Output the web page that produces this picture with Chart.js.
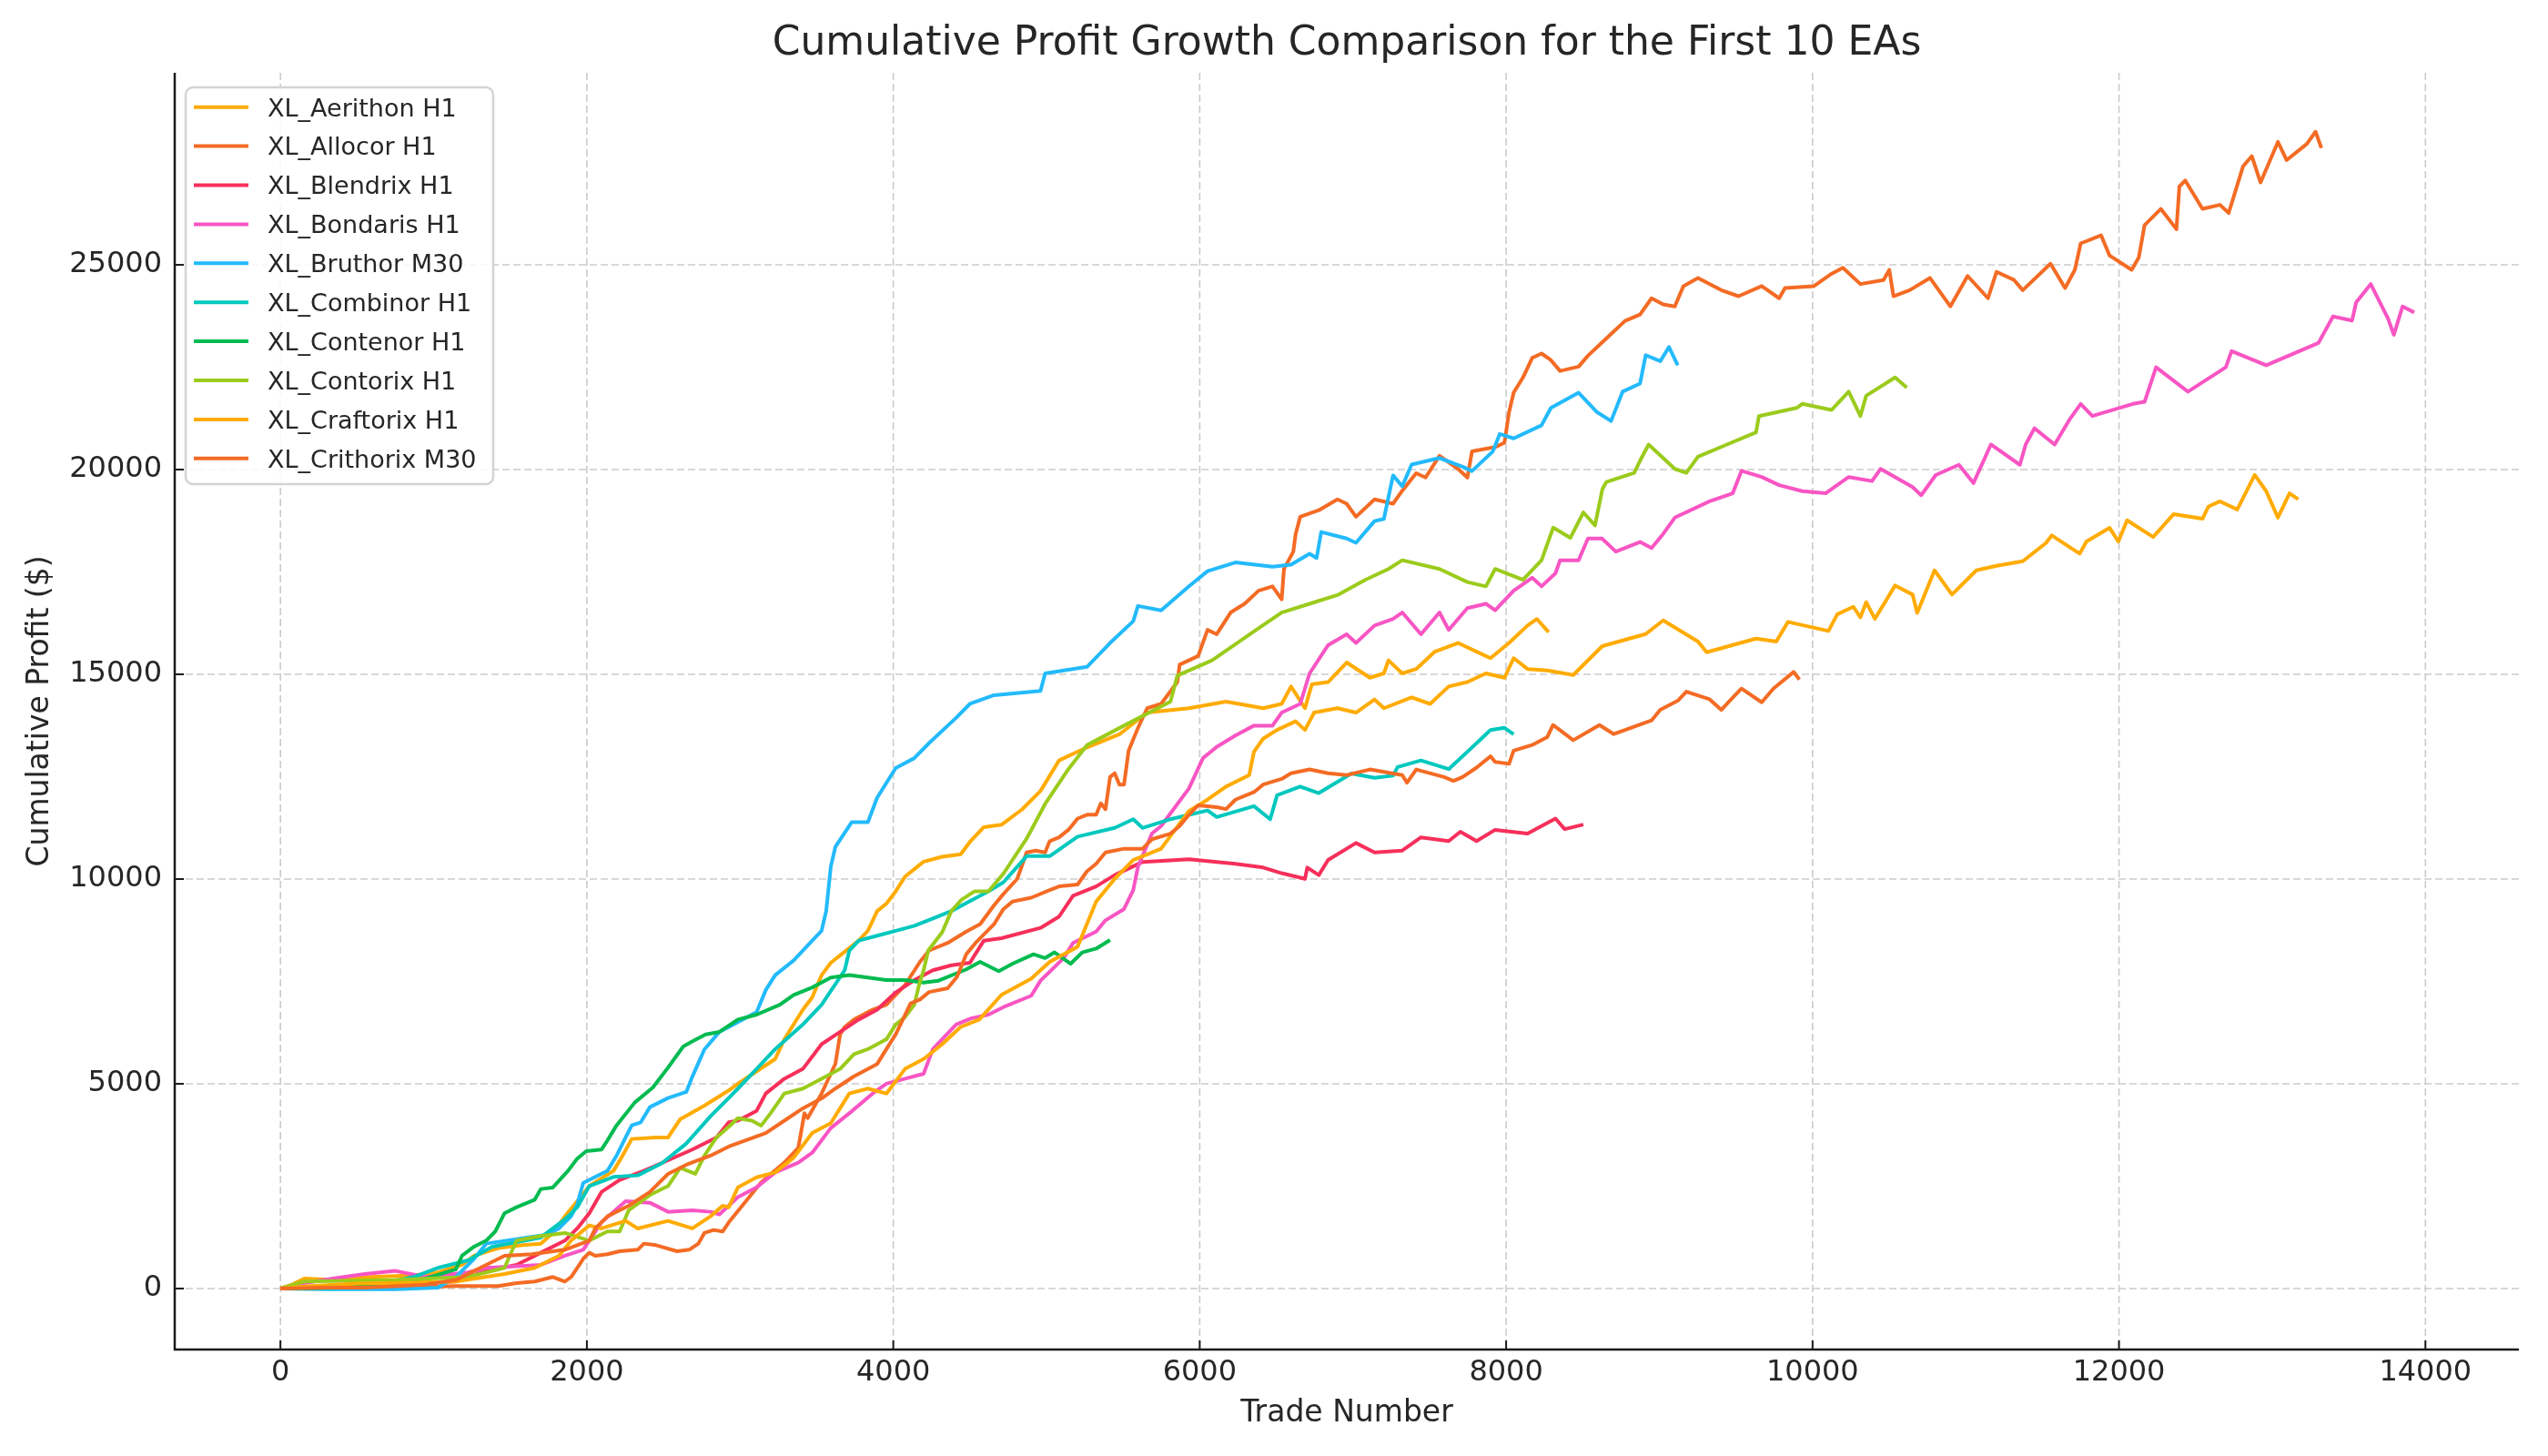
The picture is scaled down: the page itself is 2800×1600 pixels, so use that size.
<!DOCTYPE html>
<html>
<head>
<meta charset="utf-8">
<script src="https://cdn.jsdelivr.net/npm/chart.js@4.4.1/dist/chart.umd.min.js"></script>
<style>
html,body{margin:0;padding:0;background:#fff;}
#wrap{width:2800px;height:1600px;}
</style>
</head>
<body>
<div id="wrap"><canvas id="c" width="2800" height="1600"></canvas></div>
<script>
// ---------- data ----------
const chartTitle = 'Cumulative Profit Growth Comparison for the First 10 EAs';
const xAxisTitle = 'Trade Number';
const yAxisTitle = 'Cumulative Profit ($)';
const xTickValues = [0, 2000, 4000, 6000, 8000, 10000, 12000, 14000];
const yTickValues = [0, 5000, 10000, 15000, 20000, 25000];

const seriesNames = ['XL_Aerithon H1','XL_Allocor H1','XL_Blendrix H1','XL_Bondaris H1','XL_Bruthor M30','XL_Combinor H1','XL_Contenor H1','XL_Contorix H1','XL_Craftorix H1','XL_Crithorix M30'];
const seriesColors = ['#FFAB00','#F46B24','#F72F5A','#F855C3','#23BAFC','#00C8BE','#00BB50','#9BCB1C','#FFAB00','#F46B24'];

const aerithonTrades = [0,77,156,354,591,868,1027,1185,1264,1422,1580,1699,1778,1857,1937,2016,2174,2233,2293,2451,2530,2609,2767,2926,2986,3108,3229,3289,3410,3471,3532,3592,3653,3774,3834,3895,3955,4016,4077,4198,4319,4440,4500,4591,4706,4840,4961,5082,5264,5476,5657,5930,6172,6414,6535,6596,6687,6732,6838,6959,7111,7202,7232,7322,7413,7535,7686,7807,7898,8019,8140,8201,8277];
const aerithonProfit = [0,97,245,208,282,319,393,578,800,985,1059,1096,1356,1763,2133,2504,2874,3244,3652,3689,3689,4133,4467,4837,5003,5304,5605,6087,6810,7111,7653,7954,8135,8496,8737,9219,9400,9701,10062,10424,10544,10604,10906,11267,11327,11700,12153,12897,13216,13534,14066,14172,14332,14172,14278,14703,14172,14757,14810,15288,14916,15022,15341,15022,15129,15554,15766,15554,15394,15766,16191,16351,16032];

const allocorTrades = [0,300,600,900,1145,1422,1541,1660,1778,1857,1897,1937,1976,2016,2055,2134,2214,2332,2372,2451,2589,2668,2728,2767,2827,2886,2926,3138,3289,3380,3420,3441,3532,3592,3622,3653,3683,3744,3865,3955,4077,4174,4234,4355,4476,4567,4658,4719,4809,4870,4930,4991,5021,5082,5143,5203,5264,5324,5354,5385,5415,5445,5476,5506,5536,5566,5597,5657,5748,5854,5869,5990,6051,6111,6202,6293,6384,6475,6535,6550,6611,6626,6656,6777,6899,6959,7020,7141,7262,7322,7413,7474,7565,7686,7747,7777,7928,7989,8019,8049,8110,8170,8231,8292,8352,8473,8534,8655,8776,8874,8949,9025,9101,9157,9252,9404,9517,9668,9782,9820,10009,10123,10198,10312,10463,10501,10528,10634,10766,10899,11012,11145,11201,11315,11372,11553,11648,11712,11750,11883,11939,12083,12129,12167,12273,12375,12394,12432,12545,12659,12716,12810,12867,12924,13037,13094,13226,13283,13321];
const allocorProfit = [0,30,50,40,59,59,133,171,282,171,282,504,726,874,800,837,911,948,1096,1059,911,948,1096,1356,1430,1393,1615,2593,3076,3437,4280,4160,4762,5244,5485,6207,6388,6569,6810,6930,7412,7978,8255,8439,8715,8900,9360,9636,10005,10649,10695,10649,10926,11018,11202,11478,11570,11570,11847,11708,12492,12584,12307,12307,13136,13413,13689,14172,14278,14810,15235,15447,16085,15979,16510,16723,17042,17148,16829,17573,17998,18423,18848,19008,19274,19167,18848,19274,19167,19486,19911,19805,20336,20017,19805,20443,20549,20655,21399,21877,22249,22727,22834,22674,22409,22515,22781,23206,23631,23787,24184,24035,23985,24481,24680,24382,24234,24481,24184,24432,24481,24779,24928,24531,24630,24878,24234,24382,24680,23985,24729,24184,24829,24630,24382,25027,24432,24878,25523,25721,25225,24878,25176,25969,26366,25870,26912,27061,26366,26465,26267,27408,27656,27011,28003,27557,27953,28251,27854];

const blendrixTrades = [0,300,600,900,1145,1343,1541,1699,1857,1937,2016,2095,2214,2372,2530,2688,2846,2926,2986,3108,3168,3289,3410,3532,3653,3774,3895,4016,4137,4258,4379,4500,4591,4706,4961,5082,5173,5324,5445,5627,5930,6233,6414,6535,6687,6702,6777,6838,7020,7141,7322,7444,7625,7701,7807,7928,8140,8322,8382,8504];
const blendrixProfit = [0,10,60,120,171,430,578,874,1170,1467,1837,2356,2652,2874,3133,3393,3689,4059,4099,4340,4762,5123,5364,5966,6268,6569,6810,7231,7533,7773,7894,7954,8496,8556,8807,9083,9590,9820,10097,10419,10484,10373,10281,10143,10005,10281,10097,10465,10880,10649,10695,11018,10926,11156,10926,11202,11110,11478,11220,11331];

const bondarisTrades = [0,156,352,552,750,948,1224,1343,1541,1699,1857,1976,2095,2253,2411,2530,2688,2807,2865,2986,3108,3229,3380,3471,3592,3713,3865,3955,4077,4198,4258,4410,4507,4621,4719,4900,4961,5112,5173,5324,5385,5506,5566,5597,5688,5748,5839,5930,6021,6111,6233,6354,6475,6535,6656,6717,6838,6959,7020,7141,7262,7322,7444,7565,7625,7747,7868,7928,8049,8170,8231,8322,8352,8473,8534,8625,8716,8874,8949,9025,9101,9328,9479,9536,9668,9782,9933,10085,10236,10388,10444,10653,10709,10804,10955,11050,11164,11353,11391,11448,11580,11675,11750,11826,12091,12167,12242,12450,12697,12735,12961,13302,13397,13521,13548,13643,13756,13794,13851,13927];
const bondarisProfit = [0,133,250,356,430,282,393,504,541,578,800,948,1615,2133,2096,1874,1911,1874,1810,2232,2473,2835,3076,3317,3918,4280,4762,5003,5123,5244,5846,6448,6597,6689,6873,7149,7518,8070,8439,8715,8992,9268,9728,10300,11110,11294,11755,12215,12952,13228,13505,13747,13747,14066,14278,15022,15713,15979,15766,16191,16351,16510,15979,16510,16085,16617,16723,16563,17042,17360,17148,17467,17786,17786,18317,18317,17998,18232,18083,18430,18827,19224,19422,19968,19819,19621,19472,19422,19819,19720,20017,19571,19373,19868,20117,19670,20612,20117,20612,21010,20612,21208,21605,21307,21605,21654,22498,21902,22498,22894,22547,23092,23738,23638,24085,24531,23688,23291,23985,23837];

const bruthorTrades = [0,300,750,1027,1145,1264,1343,1541,1739,1818,1897,1937,1976,2055,2134,2194,2253,2293,2352,2411,2530,2649,2688,2767,2865,2986,3108,3168,3229,3350,3471,3532,3562,3592,3622,3728,3834,3895,4016,4137,4234,4416,4500,4658,4961,4991,5264,5415,5566,5597,5748,5930,6051,6233,6475,6596,6717,6763,6793,6959,7020,7141,7202,7262,7322,7383,7565,7716,7777,7913,7958,8049,8231,8292,8473,8594,8685,8760,8874,8911,9006,9063,9120];
const bruthorProfit = [0,-20,-15,22,282,726,1096,1207,1319,1467,1763,2059,2578,2726,2874,3244,3689,3985,4059,4430,4652,4800,5170,5837,6268,6508,6749,7291,7653,8014,8496,8737,9219,10303,10785,11387,11387,11990,12712,12953,13322,13959,14278,14491,14597,15022,15182,15766,16298,16670,16563,17148,17520,17732,17626,17679,17945,17839,18476,18317,18211,18742,18795,19858,19592,20124,20283,20071,19964,20442,20868,20761,21080,21505,21877,21399,21187,21902,22101,22795,22646,22994,22547];

const combinorTrades = [0,300,552,868,1027,1224,1383,1541,1699,1857,1937,2016,2174,2332,2490,2649,2807,2926,2986,3108,3229,3410,3532,3683,3713,3774,3895,4016,4137,4258,4379,4500,4621,4719,4870,5021,5203,5445,5566,5627,5809,6051,6111,6354,6460,6505,6656,6777,6990,7141,7262,7292,7444,7625,7747,7868,7898,7989,8049];
const combinorProfit = [0,10,22,282,504,689,1022,1133,1245,1689,1985,2504,2726,2763,3059,3541,4207,4652,4883,5364,5846,6448,6930,7773,8255,8496,8617,8737,8858,9038,9219,9460,9701,9921,10559,10559,11037,11249,11462,11249,11462,11674,11515,11781,11462,12046,12259,12099,12578,12472,12525,12737,12897,12684,13109,13534,13641,13694,13534];

const contenorTrades = [0,354,750,948,1145,1185,1264,1343,1402,1462,1541,1660,1699,1778,1877,1937,1996,2095,2134,2194,2312,2431,2530,2629,2684,2775,2865,2986,3108,3259,3350,3471,3592,3713,3834,3955,4077,4198,4295,4476,4567,4688,4779,4915,4991,5052,5158,5233,5324,5415];
const contenorProfit = [0,22,134,245,467,800,1022,1170,1393,1837,1985,2170,2430,2467,2874,3170,3356,3393,3615,3985,4541,4911,5396,5911,6027,6207,6268,6569,6689,6930,7171,7352,7593,7653,7593,7533,7533,7472,7518,7794,7978,7748,7932,8162,8070,8209,7932,8209,8301,8512];

const contorixTrades = [0,156,400,750,1224,1462,1541,1699,1857,2016,2134,2214,2273,2411,2530,2609,2708,2767,2846,2926,2986,3077,3138,3199,3289,3410,3532,3653,3744,3834,3955,4016,4077,4137,4168,4198,4228,4319,4379,4446,4531,4621,4719,4870,4991,5143,5264,5506,5809,5854,6081,6369,6535,6717,6899,7080,7232,7322,7565,7747,7868,7928,8110,8231,8307,8419,8504,8580,8628,8655,8836,8874,8930,9101,9176,9252,9441,9631,9650,9896,9933,10123,10236,10312,10350,10539,10615];
const contorixProfit = [0,171,190,208,282,504,1170,1282,1356,1170,1393,1393,1911,2282,2504,2948,2800,3244,3689,3948,4159,4099,3979,4280,4762,4883,5123,5364,5726,5846,6087,6448,6629,6930,7412,7773,8255,8700,9219,9496,9701,9701,10133,10984,11834,12684,13269,13747,14332,14969,15341,16085,16510,16723,16936,17307,17573,17786,17573,17254,17148,17573,17307,17786,18582,18332,18955,18636,19522,19699,19918,20216,20612,20017,19918,20315,20612,20910,21307,21505,21605,21456,21902,21307,21803,22250,22001];

const craftorixTrades = [0,200,500,800,1145,1462,1660,1818,1897,2016,2095,2253,2332,2530,2688,2807,2886,2926,2986,3108,3229,3350,3471,3592,3713,3834,3955,4077,4198,4319,4440,4561,4706,4900,5021,5203,5324,5445,5566,5748,5930,6051,6172,6323,6354,6414,6505,6626,6687,6747,6899,7020,7141,7202,7383,7504,7625,7747,7868,7989,8049,8140,8268,8438,8628,8911,9025,9252,9309,9631,9763,9839,10104,10161,10266,10312,10350,10407,10539,10653,10683,10796,10910,11069,11201,11372,11523,11561,11743,11788,11939,11996,12053,12223,12356,12545,12583,12659,12772,12886,12961,13037,13113,13170];
const craftorixProfit = [0,60,120,140,171,356,504,800,1170,1541,1467,1652,1467,1652,1467,1763,2022,1985,2473,2715,2835,3196,3798,4039,4762,4883,4762,5364,5605,5967,6388,6569,7171,7564,7978,8347,9452,10005,10465,10741,11663,11940,12259,12538,13109,13428,13641,13853,13641,14066,14172,14066,14385,14172,14438,14278,14703,14810,15022,14916,15394,15129,15095,14984,15688,15984,16317,15799,15540,15873,15799,16280,16058,16465,16650,16391,16762,16354,17169,16947,16502,17539,16947,17539,17650,17762,18206,18391,17947,18243,18576,18243,18762,18354,18910,18799,19095,19224,19026,19869,19472,18827,19422,19273];

const crithorixTrades = [0,300,552,948,1145,1343,1462,1640,1857,2016,2055,2134,2273,2411,2530,2649,2807,2926,3168,3289,3410,3532,3622,3744,3895,3955,4016,4113,4174,4234,4355,4416,4476,4537,4597,4658,4719,4779,4900,5021,5082,5203,5264,5324,5385,5506,5627,5688,5809,5869,5930,5990,6111,6172,6233,6354,6414,6535,6596,6717,6838,6959,7111,7322,7353,7413,7595,7656,7716,7807,7898,7928,8019,8049,8170,8268,8306,8438,8609,8703,8949,9006,9120,9176,9328,9404,9479,9536,9668,9744,9877,9914];
const crithorixProfit = [0,20,22,96,208,578,800,837,948,1170,1467,1763,2022,2356,2800,3022,3244,3467,3798,4099,4401,4642,4883,5183,5485,5846,6207,6965,7057,7241,7334,7610,8163,8439,8669,8899,9268,9452,9544,9728,9820,9866,10189,10373,10649,10741,10741,10972,11110,11294,11570,11801,11755,11709,11939,12123,12307,12446,12584,12676,12584,12538,12676,12538,12353,12676,12492,12399,12492,12722,12998,12860,12814,13136,13274,13466,13762,13392,13762,13540,13873,14132,14354,14576,14391,14132,14428,14651,14317,14651,15058,14873];

const seriesTrades = [aerithonTrades, allocorTrades, blendrixTrades, bondarisTrades, bruthorTrades, combinorTrades, contenorTrades, contorixTrades, craftorixTrades, crithorixTrades];
const seriesProfit = [aerithonProfit, allocorProfit, blendrixProfit, bondarisProfit, bruthorProfit, combinorProfit, contenorProfit, contorixProfit, craftorixProfit, crithorixProfit];

// ---------- chart ----------
const FONT = '"DejaVu Sans", "Liberation Sans", sans-serif';
const TEXT = '#262626';
Chart.defaults.font.family = FONT;
Chart.defaults.color = TEXT;

const datasets = seriesNames.map((name, i) => ({
  label: name,
  data: seriesTrades[i].map((t, k) => ({x: t, y: seriesProfit[i][k]})),
  borderColor: seriesColors[i],
  backgroundColor: seriesColors[i],
  borderWidth: 4,
  pointRadius: 0,
  pointHoverRadius: 0,
  tension: 0,
  fill: false,
  borderJoinStyle: 'round',
  order: seriesNames.length - 1 - i
}));

const decor = {
  id: 'decor',
  beforeDatasetsDraw(chart) {
    const {ctx, chartArea: a, scales: {x, y}} = chart;
    ctx.save();
    ctx.strokeStyle = '#cbcbcb';
    ctx.lineWidth = 1.6;
    ctx.setLineDash([8, 4]);
    xTickValues.forEach(v => {
      const px = x.getPixelForValue(v);
      ctx.beginPath(); ctx.moveTo(px, a.top); ctx.lineTo(px, a.bottom); ctx.stroke();
    });
    yTickValues.forEach(v => {
      const py = y.getPixelForValue(v);
      ctx.beginPath(); ctx.moveTo(a.left, py); ctx.lineTo(a.right, py); ctx.stroke();
    });
    ctx.restore();
  },
  afterDatasetsDraw(chart) {
    const {ctx, chartArea: a, scales: {x, y}} = chart;
    ctx.save();
    ctx.setLineDash([]);
    ctx.strokeStyle = '#1a1a1a';
    ctx.lineWidth = 2.5;
    ctx.beginPath(); ctx.moveTo(a.left, a.top); ctx.lineTo(a.left, a.bottom); ctx.lineTo(a.right, a.bottom); ctx.stroke();
    ctx.lineWidth = 2;
    xTickValues.forEach(v => {
      const px = x.getPixelForValue(v);
      ctx.beginPath(); ctx.moveTo(px, a.bottom); ctx.lineTo(px, a.bottom - 10); ctx.stroke();
    });
    yTickValues.forEach(v => {
      const py = y.getPixelForValue(v);
      ctx.beginPath(); ctx.moveTo(a.left, py); ctx.lineTo(a.left + 10, py); ctx.stroke();
    });
    // legend
    const ds = chart.data.datasets;
    const bx = a.left + 12, by = a.top + 16, bw = 338, bh = 436;
    ctx.beginPath();
    if (ctx.roundRect) ctx.roundRect(bx, by, bw, bh, 8); else ctx.rect(bx, by, bw, bh);
    ctx.fillStyle = 'rgba(255,255,255,0.85)';
    ctx.fill();
    ctx.strokeStyle = '#d4d4d4';
    ctx.lineWidth = 2.5;
    ctx.stroke();
    ctx.font = '27px ' + FONT;
    ctx.textBaseline = 'alphabetic';
    ds.forEach((d, i) => {
      const cy = by + 21.7 + i * 42.9;
      ctx.strokeStyle = d.borderColor;
      ctx.lineWidth = 4;
      ctx.beginPath(); ctx.moveTo(bx + 9, cy); ctx.lineTo(bx + 69, cy); ctx.stroke();
      ctx.fillStyle = TEXT;
      ctx.fillText(d.label, bx + 90, cy + 9.8);
    });
    ctx.restore();
  }
};

new Chart(document.getElementById('c'), {
  type: 'line',
  data: {datasets},
  options: {
    responsive: false,
    animation: false,
    devicePixelRatio: 1,
    layout: {padding: {left: 0, right: 32, top: 0, bottom: 0}},
    plugins: {
      legend: {display: false},
      tooltip: {enabled: false},
      title: {
        display: true,
        text: chartTitle,
        fullSize: false,
        color: TEXT,
        font: {size: 44, weight: 'normal', family: FONT},
        padding: {top: 22.6, bottom: 4.6}
      }
    },
    scales: {
      x: {
        type: 'linear',
        min: -690,
        max: 14610,
        afterBuildTicks: s => { s.ticks = xTickValues.map(v => ({value: v})); },
        afterFit: s => { s.height = 117; },
        grid: {display: false, drawTicks: false},
        border: {display: false},
        ticks: {
          font: {size: 32, family: FONT},
          color: TEXT,
          padding: 6,
          maxRotation: 0,
          autoSkip: false,
          callback: v => String(v)
        },
        title: {
          display: true,
          text: xAxisTitle,
          color: TEXT,
          font: {size: 33, family: FONT},
          padding: {top: 0, bottom: 27}
        }
      },
      y: {
        type: 'linear',
        min: -1490,
        max: 29690,
        afterBuildTicks: s => { s.ticks = yTickValues.map(v => ({value: v})); },
        afterFit: s => { s.width = 192; },
        grid: {display: false, drawTicks: false},
        border: {display: false},
        ticks: {
          font: {size: 32, family: FONT},
          color: TEXT,
          padding: 14,
          autoSkip: false,
          callback: v => String(v)
        },
        title: {
          display: true,
          text: yAxisTitle,
          color: TEXT,
          font: {size: 33, family: FONT},
          padding: {top: 25, bottom: 0}
        }
      }
    }
  },
  plugins: [decor]
});
</script>
</body>
</html>
